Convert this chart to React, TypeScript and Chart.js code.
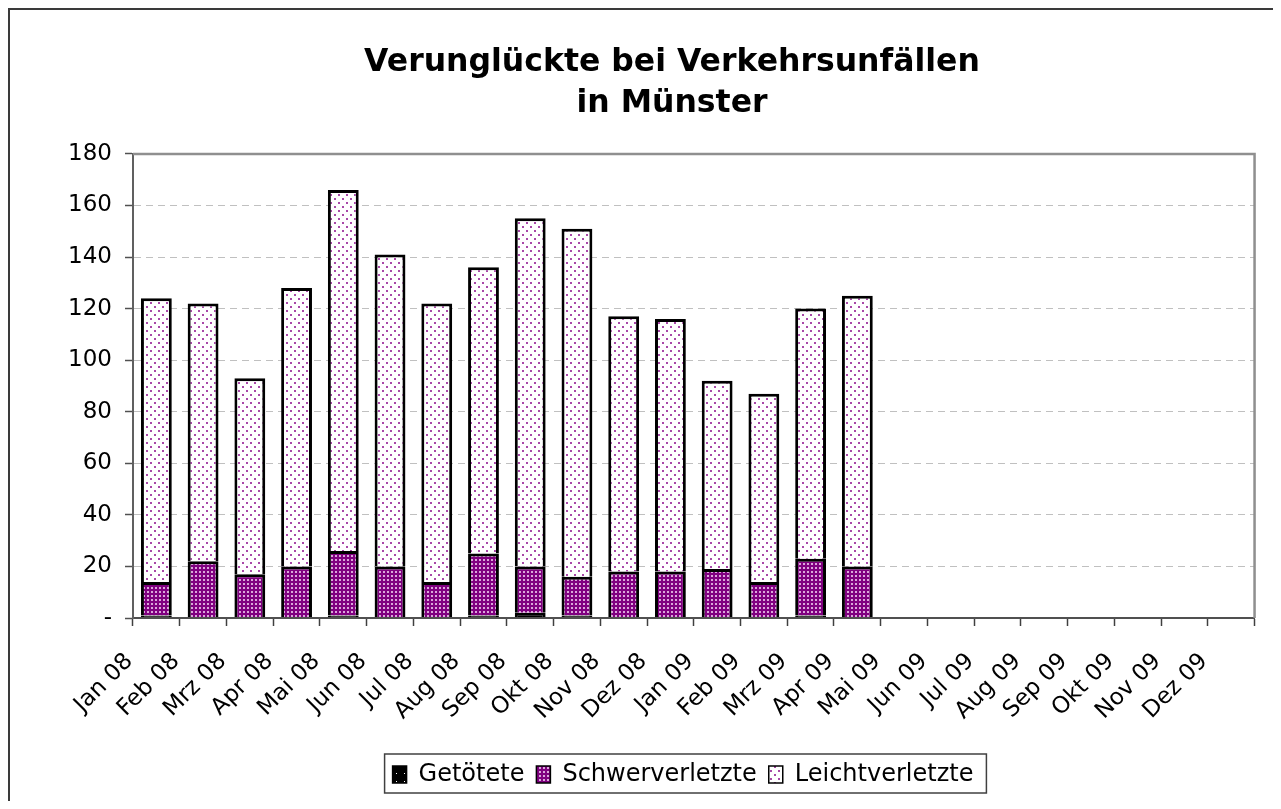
import React, { useEffect, useRef } from 'react';
import { Chart, registerables } from 'chart.js';

Chart.register(...registerables);

const titleLines = ['Verunglückte bei Verkehrsunfällen', 'in Münster'];

const months = [
  'Jan 08', 'Feb 08', 'Mrz 08', 'Apr 08', 'Mai 08', 'Jun 08', 'Jul 08', 'Aug 08',
  'Sep 08', 'Okt 08', 'Nov 08', 'Dez 08', 'Jan 09', 'Feb 09', 'Mrz 09', 'Apr 09',
  'Mai 09', 'Jun 09', 'Jul 09', 'Aug 09', 'Sep 09', 'Okt 09', 'Nov 09', 'Dez 09',
];

const getoetete = [1, 0, 0, 0, 1, 0, 0, 1, 2, 1, 0, 0, 0, 0, 1, 0, null, null, null, null, null, null, null, null];
const schwerverletzte = [13, 22, 17, 20, 25, 20, 14, 24, 18, 15, 18, 18, 19, 14, 22, 20, null, null, null, null, null, null, null, null];
const leichtverletzte = [110, 100, 76, 108, 140, 121, 108, 111, 135, 135, 99, 98, 73, 73, 97, 105, null, null, null, null, null, null, null, null];

const seriesNames = ['Getötete', 'Schwerverletzte', 'Leichtverletzte'];

const yMin = 0;
const yMax = 180;
const yStep = 20;

const FONT = "'DejaVu Sans', Verdana, sans-serif";

const TITLE_CX = 662;
const LEGEND_CX = 673;

function makePattern(size: number, bg: string, dots: Array<[number, number, number, number, string]>) {
  const c = document.createElement('canvas');
  c.width = size;
  c.height = size;
  const g = c.getContext('2d')!;
  g.fillStyle = bg;
  g.fillRect(0, 0, size, size);
  dots.forEach(([x, y, w, h, col]) => {
    g.fillStyle = col;
    g.fillRect(x, y, w, h);
  });
  const ctx = document.createElement('canvas').getContext('2d')!;
  return ctx.createPattern(c, 'repeat') as CanvasPattern;
}

const framePlugin = {
  id: 'frame',
  afterLayout(chart: any) {
    const t = chart.titleBlock;
    if (t) {
      const w = t.right - t.left;
      t.left = TITLE_CX - w / 2;
      t.right = TITLE_CX + w / 2;
    }
    const lg = chart.legend;
    if (lg) {
      const w = lg.right - lg.left;
      lg.left = LEGEND_CX - w / 2;
      lg.right = LEGEND_CX + w / 2;
    }
  },
  afterDraw(chart: any) {
    const { ctx, chartArea: a } = chart;
    ctx.save();
    ctx.strokeStyle = '#8f8f8f';
    ctx.lineWidth = 2.5;
    ctx.beginPath();
    ctx.moveTo(a.left, a.top);
    ctx.lineTo(a.right, a.top);
    ctx.lineTo(a.right, a.bottom);
    ctx.stroke();
    const hb = chart.legend && chart.legend.legendHitBoxes;
    if (hb && hb.length) {
      const left = Math.min(...hb.map((h: any) => h.left)) - 8;
      const right = Math.max(...hb.map((h: any) => h.left + h.width)) + 13;
      const cy = hb[0].top + hb[0].height / 2;
      ctx.strokeStyle = '#404040';
      ctx.lineWidth = 1.5;
      ctx.strokeRect(left, cy - 20.5, right - left, 39);
    }
    ctx.restore();
  },
};

export default function App() {
  const ref = useRef<HTMLCanvasElement | null>(null);

  useEffect(() => {
    if (!ref.current) return;
    const pGet = makePattern(8, '#000000', [[2, 3, 1, 1, '#ffffff']]);
    const pSchwer = makePattern(4, '#800080', [[1, 1, 2, 2, '#dba6db']]);
    const pLeicht = makePattern(8, '#ffffff', [[0, 0, 2, 2, '#a848a8'], [4, 4, 2, 2, '#a848a8']]);

    const chart = new Chart(ref.current, {
      type: 'bar',
      data: {
        labels: months,
        datasets: [
          { label: seriesNames[0], data: getoetete, backgroundColor: pGet, borderColor: '#000', borderWidth: 3 },
          { label: seriesNames[1], data: schwerverletzte, backgroundColor: pSchwer, borderColor: '#000', borderWidth: 3 },
          { label: seriesNames[2], data: leichtverletzte, backgroundColor: pLeicht, borderColor: '#000', borderWidth: 3 },
        ] as any,
      },
      options: {
        animation: false,
        responsive: false,
        maintainAspectRatio: false,
        datasets: { bar: { barPercentage: 1, categoryPercentage: 0.66 } },
        layout: { padding: { left: 50, right: 14, top: 0, bottom: 4.5 } },
        plugins: {
          title: {
            display: true,
            text: titleLines,
            color: '#000',
            font: { family: FONT, size: 31.5, weight: 'bold', lineHeight: 1.3 },
            padding: { top: 32, bottom: 30 },
          },
          legend: {
            display: true,
            position: 'bottom',
            labels: {
              color: '#000',
              font: { family: FONT, size: 24 },
              boxWidth: 14,
              boxHeight: 17,
              padding: 12,
              generateLabels: (c: any) => {
                const items = (Chart as any).defaults.plugins.legend.labels.generateLabels(c);
                items.forEach((it: any) => { it.lineWidth = 1.5; it.strokeStyle = '#000'; });
                return items;
              },
            },
          },
          tooltip: { enabled: false },
        },
        scales: {
          x: {
            stacked: true,
            offset: true,
            afterFit: (s: any) => { s.height = 132.5; },
            grid: {
              offset: true,
              drawOnChartArea: false,
              drawTicks: true,
              tickLength: 8,
              tickColor: '#404040',
              tickWidth: 1.5,
            },
            border: { display: true, color: '#505050', width: 2, z: 1 },
            ticks: {
              autoSkip: false,
              maxRotation: 45,
              minRotation: 45,
              padding: 22,
              labelOffset: -27,
              color: '#000',
              font: { family: FONT, size: 23 },
            },
          },
          y: {
            stacked: true,
            min: yMin,
            max: yMax,
            afterFit: (s: any) => { s.width = 73; },
            grid: {
              color: '#c0c0c0',
              lineWidth: 1,
              drawTicks: true,
              tickLength: 8,
              tickColor: '#505050',
              tickWidth: 1.5,
            },
            border: { display: true, color: '#606060', width: 2, dash: [7, 5], z: 1 },
            ticks: {
              stepSize: yStep,
              padding: 13,
              color: '#000',
              font: { family: FONT, size: 23 },
              callback: (v: any) => (Number(v) === 0 ? '-' : String(v)),
            },
          },
        },
      } as any,
      plugins: [framePlugin],
    });
    return () => chart.destroy();
  }, []);

  return (
    <div
      style={{
        width: 1265,
        height: 793,
        borderLeft: '2px solid #3a3a3a',
        borderTop: '2px solid #3a3a3a',
        boxSizing: 'border-box',
        background: '#fff',
      }}
    >
      <canvas ref={ref} width={1263} height={791} style={{ display: 'block', width: 1263, height: 791 }} />
    </div>
  );
}
